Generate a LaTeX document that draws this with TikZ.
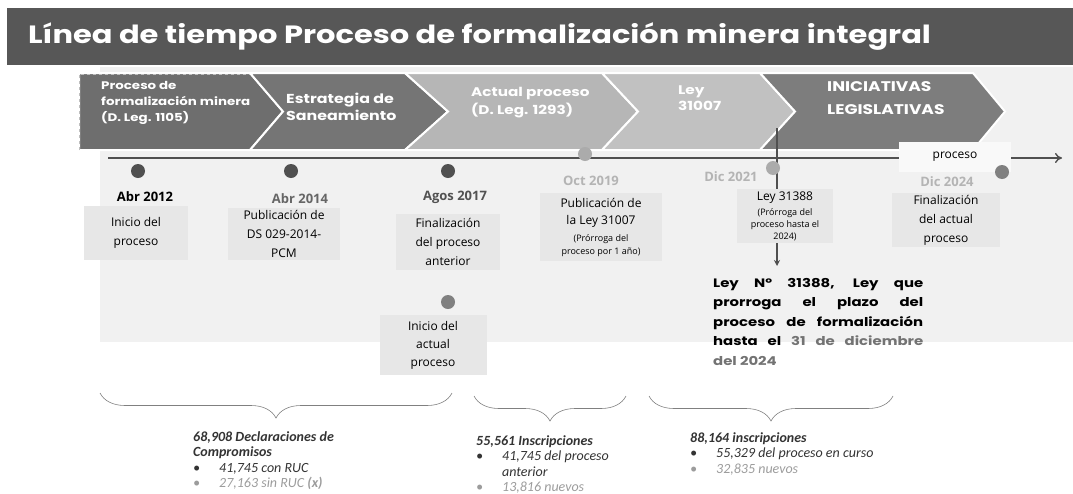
\documentclass[tikz,border=0pt]{standalone}
\usepackage{fontspec}
\setmainfont{Open Sans}
\newfontfamily\gothic[FakeStretch=1.22]{Poppins}
\newfontfamily\calibri{Carlito}
\usetikzlibrary{positioning, decorations.pathreplacing, arrows.meta}
\definecolor{bardark}{HTML}{575757}
\definecolor{panel}{HTML}{F1F1F1}
\definecolor{notegray}{HTML}{E7E7E7}
\definecolor{chdark}{HTML}{6E6E6E}
\definecolor{chlight}{HTML}{B6B6B6}
\definecolor{dotdark}{HTML}{505050}
\definecolor{dotlight}{HTML}{ABABAB}
\definecolor{datelight}{HTML}{B4B4B4}
\definecolor{tallygray}{HTML}{9C9C9C}
\tikzset{
  chev/.style={draw=white, line width=2pt, line join=miter},
  chevtext/.style={
    anchor=west, align=left, text=white, inner sep=0pt,
    font=\gothic\bfseries\fontsize{11}{16}\selectfont
  },
  tick/.style={circle, minimum size=14pt, inner sep=0pt},
  datum/.style={font=\bfseries\fontsize{13}{15}\selectfont},
  note/.style={
    fill=notegray, align=center, inner sep=2pt,
    font=\fontsize{12}{19}\selectfont
  },
  legend/.style={
    decorate, decoration={brace, amplitude=25pt, mirror},
    draw=gray, line width=0.6pt
  },
  tally/.style={
    anchor=north west, align=left, inner sep=0pt, text=black!80,
    font=\calibri\itshape\fontsize{14}{15.5}\selectfont
  }
}
\newcommand\sm{\fontsize{9}{11}\selectfont}
\newcommand\bul{\textbullet\hspace{19pt}}

\begin{document}
\begin{tikzpicture}[x=1pt, y=-1pt]
  \useasboundingbox (0,0) rectangle (1073,493);
  % background panel and title
  \fill[panel] (100,67) rectangle (1073,342);
  \fill[bardark] (7,8) rectangle (1073,65);
  \node[anchor=west, text=white, inner sep=0pt, font=\gothic\bfseries\fontsize{25}{28}\selectfont]
    (title) at (28,37) {Línea de tiempo Proceso de formalización minera integral};

  % chevrons
  \filldraw[chev, fill=chdark] (79,73) -- (250,73) -- (283,111.5) -- (250,150) -- (79,150) -- cycle;
  \draw[gray!50, dashed, line width=1pt] (79,150) -- (79,74) -- (250,74);
  \filldraw[chev, fill=chdark!95!white] (250,73) -- (405,73) -- (448,111.5) -- (405,150) -- (250,150) -- (283,111.5) -- cycle;
  \filldraw[chev, fill=chlight] (405,73) -- (602,73) -- (638,111.5) -- (602,150) -- (405,150) -- (448,111.5) -- cycle;
  \filldraw[chev, fill=chlight!85!white] (602,73) -- (760,73) -- (795,111.5) -- (760,150) -- (602,150) -- (638,111.5) -- cycle;
  \filldraw[chev, fill=chdark!90!white] (760,73) -- (973,73) -- (1005,111.5) -- (973,150) -- (760,150) -- (795,111.5) -- cycle;
  \node[chevtext] (ch-1) at (101,103) {Proceso de\\formalización minera\\(D. Leg. 1105)};
  \node[chevtext, font=\gothic\bfseries\fontsize{13}{17}\selectfont] (ch-2) at (286,107) {Estrategia de\\Saneamiento};
  \node[chevtext, font=\gothic\bfseries\fontsize{12.5}{18}\selectfont] (ch-3) at (471,103) {Actual proceso\\(D. Leg. 1293)};
  \node[chevtext, font=\gothic\bfseries\fontsize{12.5}{16}\selectfont] (ch-4) at (678,98) {Ley\\31007};
  \node[chevtext, font=\gothic\bfseries\fontsize{14}{23}\selectfont] (ch-5) at (827,98) {INICIATIVAS\\LEGISLATIVAS};

  % timeline
  \coordinate (start) at (108,158);
  \coordinate (end) at (1062,158);
  \draw[dotdark, line width=1.4pt, -{To[length=7pt, width=10pt]}] (start) -- (end);
  \coordinate (drop) at (777,128);
  \coordinate (dropend) at (777,266);
  \draw[dotdark, line width=1.4pt, -{Stealth[length=6pt, width=6pt]}] (drop) -- (dropend);
  \node[fill=white!60!panel, minimum width=112pt, minimum height=30pt, font=\fontsize{12}{14}\selectfont]
    (proc) at (955,157) {proceso};

  % notes
  \node[note, minimum width=104pt, minimum height=54pt] (n-2012) at (136,233) {Inicio del\\proceso};
  \node[note, minimum width=112pt, minimum height=50pt] (n-2014) at (284,234) {Publicación de\\DS 029-2014-\\PCM};
  \node[note, minimum width=104pt, minimum height=56pt] (n-2017) at (448,242) {Finalización\\del proceso\\anterior};
  \node[note, minimum width=122pt, minimum height=68pt, font=\fontsize{12}{17}\selectfont]
    (n-2019) at (601,227) {Publicación de\\la Ley 31007\\{\sm (Prórroga del}\\[-4pt]{\sm proceso por 1 año)}};
  \node[note, minimum width=96pt, minimum height=52pt, font=\fontsize{12}{15}\selectfont]
    (n-2021) at (785,216) {Ley 31388\\{\sm (Prórroga del}\\[-3pt]{\sm proceso hasta el}\\[-3pt]{\sm 2024)}};
  \node[note, minimum width=108pt, minimum height=54pt] (n-2024) at (946,220) {Finalización\\del actual\\proceso};
  \node[note, minimum width=107pt, minimum height=60pt, font=\fontsize{12}{18}\selectfont]
    (n-actual) at (433,345) {Inicio del\\actual\\proceso};

  % dots
  \node[tick, fill=dotdark] (d-2012) at (138,171) {};
  \node[tick, fill=dotdark] (d-2014) at (291,171) {};
  \node[tick, fill=dotdark] (d-2017) at (448,171) {};
  \node[tick, fill=dotlight] (d-2019) at (585,154) {};
  \node[tick, fill=dotlight] (d-2021) at (773,168) {};
  \node[tick, fill=gray] (d-2024) at (1002,172) {};
  \node[tick, fill=gray] (d-actual) at (448,302) {};

  % dates
  \node[datum, text=black] (t-2012) at (145,197) {Abr 2012};
  \node[datum, text=black!60] (t-2014) at (300,199) {Abr 2014};
  \node[datum, text=black!68] (t-2017) at (455,197) {Agos 2017};
  \node[datum, text=datelight] (t-2019) at (591,181) {Oct 2019};
  \node[datum, text=datelight] (t-2021) at (731,177) {Dic 2021};
  \node[datum, text=datelight] (t-2024) at (947,182) {Dic 2024};

  % law text
  \node[anchor=north west, inner sep=0pt, text width=210pt, align=justify,
        font=\gothic\bfseries\fontsize{12.2}{19.5}\selectfont] (ley) at (713,278)
    {Ley Nº 31388, Ley que\linebreak prorroga el plazo del\linebreak proceso de formalización\linebreak
     hasta el \textcolor{black!55}{31 de diciembre\linebreak del 2024}};

  % braces
  \draw[legend] (100,393) -- (452,393);
  \draw[legend] (474,396) -- (626,396);
  \draw[legend] (649,396) -- (893,396);

  % totals
  \node[tally] (tot-1) at (193,431)
    {\textbf{68,908 Declaraciones de}\\\textbf{Compromisos}\\\bul 41,745 con RUC\\
     \textcolor{tallygray}{\bul 27,163 sin RUC \textbf{(x)}}};
  \node[tally] (tot-2) at (476,435)
    {\textbf{55,561 Inscripciones}\\\bul 41,745 del proceso\\\hphantom{\bul}anterior\\
     \textcolor{tallygray}{\bul 13,816 nuevos}};
  \node[tally] (tot-3) at (690,432)
    {\textbf{88,164 inscripciones}\\\bul 55,329 del proceso en curso\\
     \textcolor{tallygray}{\bul 32,835 nuevos}};
\end{tikzpicture}
\end{document}
